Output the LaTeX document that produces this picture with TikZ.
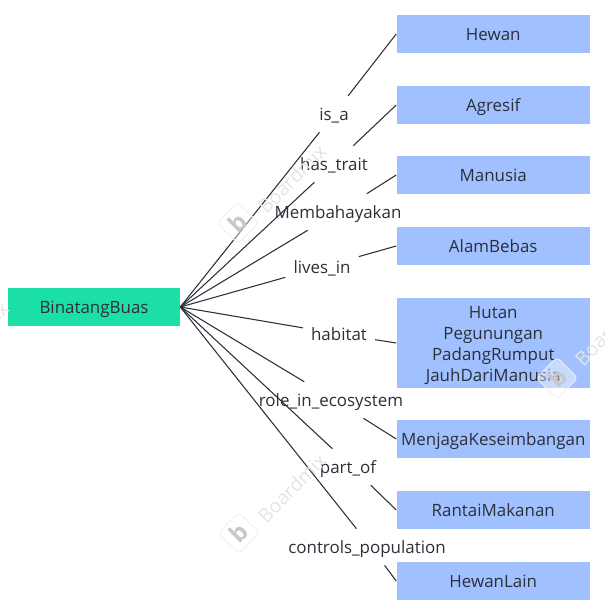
\documentclass[tikz,border=0pt]{standalone}
\usepackage{fontspec}
\setmainfont{Open Sans}
\tikzset{
  x=0.75pt,y=-0.75pt,
  rootbox/.style={fill=rootgreen,minimum width=172*0.75pt,minimum height=38*0.75pt,inner sep=0pt,text=inktext,text height=10.2pt,text depth=0pt,font=\fontsize{12.7}{16}\selectfont},
  leaf/.style={fill=leafblue,minimum width=193.5*0.75pt,minimum height=38*0.75pt,inner sep=0pt,align=center,text=inktext,font=\fontsize{12.7}{15.6}\selectfont},
  oneline/.style={text height=10.2pt,text depth=0pt},
  rel/.style={inner xsep=6pt,inner ysep=0pt,minimum height=36*0.75pt,text=inktext,text height=10.2pt,text depth=0pt,font=\fontsize{12.7}{16}\selectfont},
  conn/.style={draw=inktext,line width=0.8pt},
  wmtext/.style={text=wmgray,rotate=45,font=\fontsize{14.5}{16}\selectfont},
  wmbadge/.style={draw=wmgray!60,fill=white,fill opacity=0.4,line width=0.6pt,rounded corners=3pt,rotate=45,minimum size=22pt,inner sep=0pt},
  wmmark/.style={text=wmmarkgray,rotate=45,font=\bfseries\fontsize{18}{18}\selectfont,inner sep=0pt},
}
\definecolor{rootgreen}{HTML}{1CDFA8}
\definecolor{leafblue}{HTML}{A0C0FF}
\definecolor{inktext}{HTML}{2B3038}
\definecolor{wmgray}{HTML}{E4E4E4}
\definecolor{wmmarkgray}{HTML}{C8C8C8}
\begin{document}
\begin{tikzpicture}
\useasboundingbox (0,0) rectangle (605,614);
\clip (0,0) rectangle (605,614);
\node[rootbox] (root) at (94,307) {BinatangBuas};
\node[leaf,oneline] (t1) at (493.25,34) {Hewan};
\node[leaf,oneline] (t2) at (493.25,105) {Agresif};
\node[leaf,oneline] (t3) at (493.25,175) {Manusia};
\node[leaf,oneline] (t4) at (493.25,246) {AlamBebas};
\node[leaf,minimum height=90*0.75pt,text depth=0pt] (t5) at (493.25,343) {\raisebox{-1.5pt}{Hutan}\\\raisebox{-1.5pt}{Pegunungan}\\\raisebox{-1.5pt}{PadangRumput}\\\raisebox{-1.5pt}{JauhDariManusia}};
\node[leaf,oneline] (t6) at (493.25,439) {MenjagaKeseimbangan};
\node[leaf,oneline] (t7) at (493.25,510) {RantaiMakanan};
\node[leaf,oneline] (t8) at (493.25,581) {HewanLain};
\node[rel] (l1) at (334,114) {is\_a};
\node[rel] (l2) at (334,164) {has\_trait};
\node[rel] (l3) at (338,212) {Membahayakan};
\node[rel] (l4) at (322,267) {lives\_in};
\node[rel] (l5) at (339,334) {habitat};
\node[rel] (l6) at (334.5,400) {role\_in\_ecosystem\rule{5.25pt}{0pt}};
\node[rel] (l7) at (352,467) {part\_of\rule{6pt}{0pt}};
\node[rel] (l8) at (371,547) {controls\_population\rule{6pt}{0pt}};
\foreach \i in {1,...,8}{
  \draw[conn] (root.east) -- (l\i);
  \draw[conn] (l\i) -- (t\i.west);
}
\node[wmtext] (w1) at (292,179) {Boardmix};
\node[wmbadge] (b1) at (238,223) {};
\node[wmmark] (m1) at (238,223) {b};
\node[wmtext] (w2) at (292,488) {Boardmix};
\node[wmbadge] (b2) at (239,533) {};
\node[wmmark] (m2) at (239,533) {b};
\node[wmbadge] (b3) at (557,378) {};
\node[wmmark] (m3) at (557,378) {b};
\node[wmtext] (w3) at (609,331) {Boardmix};
\node[wmtext] (w4) at (-26,336) {Boardmix};
\end{tikzpicture}
\end{document}
